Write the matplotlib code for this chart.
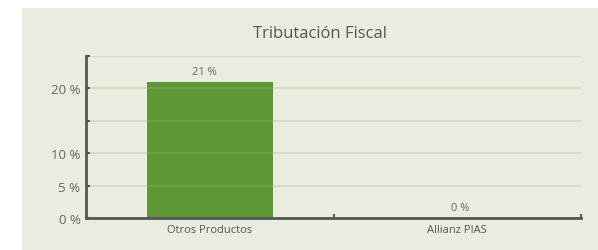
import matplotlib.pyplot as plt
from matplotlib.patches import Rectangle

categories = ['Otros Productos', 'Allianz PIAS']
values = [21, 0]
value_labels = ['21 %', '0 %']
y_ticks = [0, 5, 10, 15, 20, 25]
y_tick_labels = ['0 %', '5 %', '10 %', '', '20 %', '']

plt.rcParams['font.family'] = ['Open Sans', 'DejaVu Sans']

W, H = 598, 251
fig = plt.figure(figsize=(W / 100, H / 100), dpi=100)
fig.patch.set_facecolor('white')

# light green panel behind the chart
fig.patches.append(Rectangle((22 / W, 0), 1 - 22 / W, (H - 9) / H,
                             transform=fig.transFigure, facecolor='#e8eddf',
                             edgecolor='none', zorder=0))

ax = fig.add_axes([86 / W, (H - 219) / H, (581 - 86) / W, (219 - 57) / H])
ax.set_facecolor('none')
ax.set_zorder(2)

x = range(len(categories))
ax.bar(x, values, width=0.51, color='#5e9834', zorder=2)
for xi, v, lab in zip(x, values, value_labels):
    ax.text(xi - 0.02 if v else xi + 0.01, v + 0.8, lab, ha='center',
            va='bottom', fontsize=8, color='#666666')

ax.set_xlim(-0.5, 1.5)
ax.set_ylim(0, 25)
ax.set_yticks(y_ticks)
ax.set_yticklabels(y_tick_labels)
ax.set_xticks([0.5, 1.5])
ax.set_xticklabels(['', ''])
ax.set_xticks([0, 1], minor=True)
ax.set_xticklabels(categories, minor=True)
ax.tick_params(axis='x', which='minor', length=0, pad=4, labelsize=8,
               labelcolor='#555555')
ax.tick_params(axis='x', which='major', direction='in', length=3, width=1.5,
               color='#555555')
ax.tick_params(axis='y', direction='in', length=3, width=1.5, color='#555555',
               labelsize=9.5, labelcolor='#666666', pad=4)

# grid drawn over the bar: darker on the panel, lighter on the bar
ax.yaxis.grid(True, color='#a5b192', alpha=0.35, linewidth=1.2, zorder=3)
ax.set_axisbelow(False)
for s in ['top', 'right']:
    ax.spines[s].set_visible(False)
for s in ['left', 'bottom']:
    ax.spines[s].set_color('#555555')
    ax.spines[s].set_linewidth(2)
    ax.spines[s].set_zorder(4)

fig.text(320 / W, 1 - 34 / H, 'Tributación Fiscal', ha='center', va='center',
         fontsize=12, color='#555555')

fig.savefig('out.png', dpi=100)
